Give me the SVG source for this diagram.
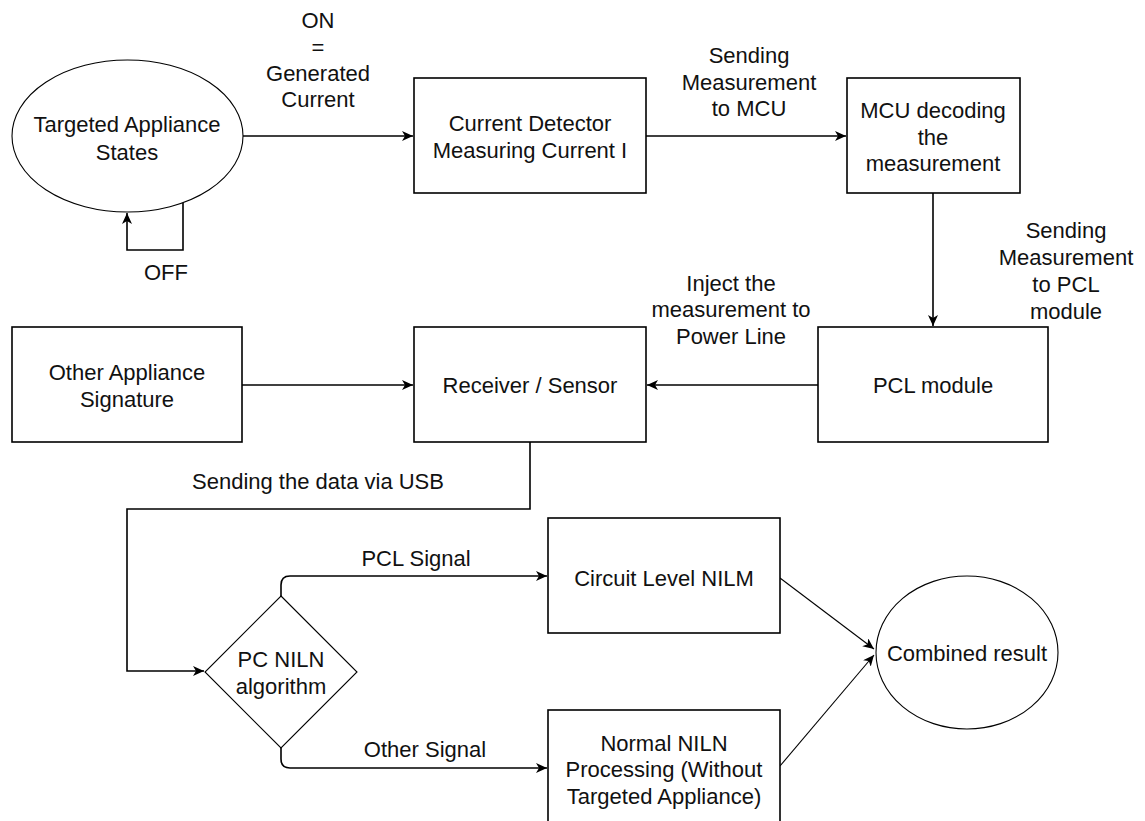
<svg xmlns="http://www.w3.org/2000/svg" width="1145" height="821" viewBox="0 0 1145 821">
<style>
.box{fill:#fff;stroke:#000;stroke-width:1.6}
.thin{fill:#fff;stroke:#000;stroke-width:1.1}
.t{font-family:"Liberation Sans",Arial,Helvetica,sans-serif;font-size:22px;fill:#111;text-anchor:middle}
.c{fill:none;stroke:#000;stroke-width:1.6}
.cl{fill:none;stroke:#000;stroke-width:1.1}
</style>
<defs>
<marker id="arr" markerUnits="userSpaceOnUse" markerWidth="14" markerHeight="12" refX="11" refY="5" orient="auto">
<path d="M0,0 L11,5 L0,10 L3,5 z" fill="#000"/>
</marker>
</defs>
<rect width="1145" height="821" fill="#fff"/>
<g id="connectors">
<path class="c" d="M243,136 H413" marker-end="url(#arr)"/>
<path class="c" d="M183,203 V250 H127 V213" marker-end="url(#arr)"/>
<path class="c" d="M646,136 H846" marker-end="url(#arr)"/>
<path class="c" d="M933,193 V326" marker-end="url(#arr)"/>
<path class="c" d="M818,385 H647" marker-end="url(#arr)"/>
<path class="c" d="M242,385 H413" marker-end="url(#arr)"/>
<path class="c" d="M530,442 V509 H127 V671 H204" marker-end="url(#arr)"/>
<path class="c" d="M281,596 V585 Q281,576 290,576 H547" marker-end="url(#arr)"/>
<path class="c" d="M281,748 V759 Q281,768 290,768 H547" marker-end="url(#arr)"/>
<path class="cl" d="M780,578 L874,649" marker-end="url(#arr)"/>
<path class="cl" d="M780,766 L874,655" marker-end="url(#arr)"/>
<text class="t" x="318" y="28">ON</text>
<text class="t" x="318" y="55">=</text>
<text class="t" x="318" y="81">Generated</text>
<text class="t" x="318" y="107">Current</text>
<text class="t" x="166" y="280">OFF</text>
<text class="t" x="749" y="63">Sending</text>
<text class="t" x="749" y="90">Measurement</text>
<text class="t" x="749" y="116">to MCU</text>
<text class="t" x="1066" y="238">Sending</text>
<text class="t" x="1066" y="265">Measurement</text>
<text class="t" x="1066" y="292">to PCL</text>
<text class="t" x="1066" y="319">module</text>
<text class="t" x="731" y="291">Inject the</text>
<text class="t" x="731" y="317">measurement to</text>
<text class="t" x="731" y="344">Power Line</text>
<text class="t" x="318" y="489">Sending the data via USB</text>
<text class="t" x="416" y="566">PCL Signal</text>
<text class="t" x="425" y="757">Other Signal</text>
</g>
<g id="targeted">
<ellipse class="thin" cx="127.5" cy="136" rx="115.5" ry="76"/>
<text class="t" x="127" y="132">Targeted Appliance</text>
<text class="t" x="127" y="160">States</text>
</g>
<g id="current-detector">
<rect class="box" x="414" y="78" width="232" height="115"/>
<text class="t" x="530" y="131">Current Detector</text>
<text class="t" x="530" y="158">Measuring Current I</text>
</g>
<g id="mcu">
<rect class="box" x="847" y="78" width="173" height="115"/>
<text class="t" x="933" y="118">MCU decoding</text>
<text class="t" x="933" y="145">the</text>
<text class="t" x="933" y="171">measurement</text>
</g>
<g id="pcl-module">
<rect class="box" x="818" y="327" width="230" height="115"/>
<text class="t" x="933" y="393">PCL module</text>
</g>
<g id="receiver">
<rect class="box" x="414" y="327" width="232" height="115"/>
<text class="t" x="530" y="393">Receiver / Sensor</text>
</g>
<g id="other-appliance">
<rect class="box" x="12" y="327" width="230" height="115"/>
<text class="t" x="127" y="380">Other Appliance</text>
<text class="t" x="127" y="407">Signature</text>
</g>
<g id="pc-niln">
<path class="thin" d="M281,596 L357,672 L281,748 L205,672 z"/>
<text class="t" x="281" y="667">PC NILN</text>
<text class="t" x="281" y="694">algorithm</text>
</g>
<g id="circuit-level">
<rect class="box" x="548" y="518" width="232" height="115"/>
<text class="t" x="664" y="586">Circuit Level NILM</text>
</g>
<g id="normal-niln">
<rect class="box" x="548" y="710" width="232" height="120"/>
<text class="t" x="664" y="751">Normal NILN</text>
<text class="t" x="664" y="777">Processing (Without</text>
<text class="t" x="664" y="804">Targeted Appliance)</text>
</g>
<g id="combined">
<ellipse class="thin" cx="967" cy="652.5" rx="91" ry="76.5"/>
<text class="t" x="967" y="661">Combined result</text>
</g>
</svg>
